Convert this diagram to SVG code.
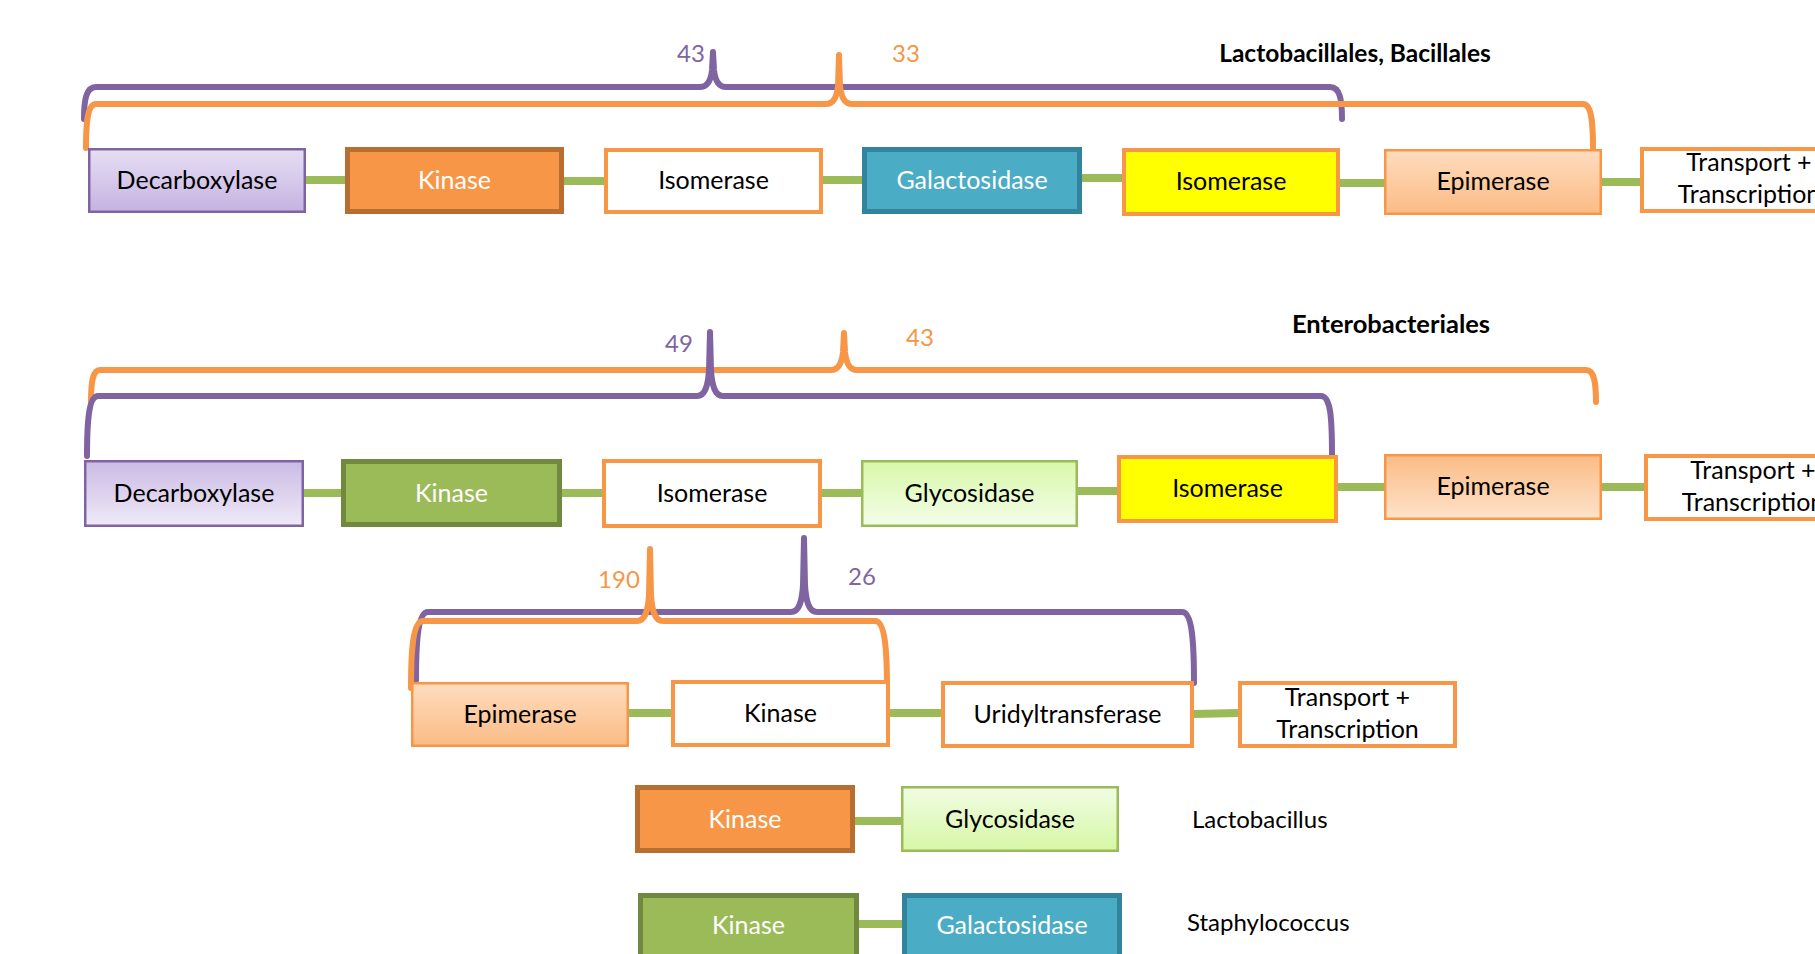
<svg xmlns="http://www.w3.org/2000/svg" width="1815" height="954" viewBox="0 0 1815 954">
<defs>
<linearGradient id="lavA" x1="0" y1="0" x2="0" y2="1"><stop offset="0" stop-color="#e6def3"/><stop offset="1" stop-color="#c5b3e1"/></linearGradient>
<linearGradient id="lavB" x1="0" y1="0" x2="0" y2="1"><stop offset="0" stop-color="#cbbbe5"/><stop offset="1" stop-color="#efe9f7"/></linearGradient>
<linearGradient id="peachA" x1="0" y1="0" x2="0" y2="1"><stop offset="0" stop-color="#fedcbe"/><stop offset="1" stop-color="#fbbc86"/></linearGradient>
<linearGradient id="peachB" x1="0" y1="0" x2="0" y2="1"><stop offset="0" stop-color="#fbbc86"/><stop offset="1" stop-color="#fee2ca"/></linearGradient>
<linearGradient id="grnA" x1="0" y1="0" x2="0" y2="1"><stop offset="0" stop-color="#d9f8aa"/><stop offset="1" stop-color="#f3fde8"/></linearGradient>
<linearGradient id="grnB" x1="0" y1="0" x2="0" y2="1"><stop offset="0" stop-color="#f0fce2"/><stop offset="1" stop-color="#d7f7a6"/></linearGradient>
</defs>
<style>
text{font-family:"Lato","Liberation Sans",sans-serif;font-size:25px;text-anchor:middle;fill:#000}
.w{fill:#fff}
.num{font-size:24px}
.np{fill:#7f65a1}
.no{fill:#f79646}
.title{font-weight:bold;font-size:24.5px}
.sp{font-size:24px;text-anchor:start}
.dec{stroke:#8064a2;stroke-width:2.5}
.ko{fill:#f79646;stroke:#b86d31;stroke-width:5}
.kg{fill:#9bbb59;stroke:#71893f;stroke-width:5}
.wo{fill:#fff;stroke:#f79646;stroke-width:4}
.ga{fill:#4bacc6;stroke:#31849b;stroke-width:5}
.ye{fill:#ffff00;stroke:#f79646;stroke-width:4}
.ep{stroke:#f79646;stroke-width:2.5}
.gl{stroke:#9bbb59;stroke-width:2.5}
.con line{stroke:#9bbb59;stroke-width:8}
.br{fill:none;stroke-width:6;stroke-linecap:round;stroke-linejoin:round}
.bp{stroke:#8064a2}
.bo{stroke:#f79646}
</style>

<g id="connectors" class="con">
<line x1="306" y1="180" x2="345" y2="180"/>
<line x1="564" y1="181" x2="604" y2="181"/>
<line x1="823" y1="180" x2="862" y2="180"/>
<line x1="1082" y1="178" x2="1122" y2="178"/>
<line x1="1340" y1="183" x2="1384" y2="183"/>
<line x1="1602" y1="182" x2="1640" y2="182"/>
<line x1="304" y1="493" x2="341" y2="493"/>
<line x1="562" y1="493" x2="602" y2="493"/>
<line x1="822" y1="493" x2="861" y2="493"/>
<line x1="1078" y1="491" x2="1117" y2="491"/>
<line x1="1338" y1="487" x2="1384" y2="487"/>
<line x1="1602" y1="487" x2="1644" y2="487"/>
<line x1="629" y1="713" x2="671" y2="713"/>
<line x1="890" y1="713" x2="941" y2="713"/>
<line x1="1194" y1="714" x2="1238" y2="713"/>
<line x1="855" y1="821" x2="901" y2="821"/>
<line x1="859" y1="924" x2="902" y2="924"/>
</g>

<g id="brackets-row1">
<path class="br bp" d="M84,119 C84,100 86,87 96,87 L700,87 C708,87 711,80 712,70 L713,52 L714,70 C715,80 718,87 726,87 L1330,87 C1340,87 1342,100 1342,119"/>
<path class="br bo" d="M86,148 C86,125 87,104 96,104 L826,104 C834,104 837,96 838,86 L839,55 L840,86 C841,96 844,104 852,104 L1583,104 C1592,104 1593,125 1593,148"/>
<text class="num np" x="691" y="62">43</text>
<text class="num no" x="906" y="62">33</text>
<text class="title" x="1355" y="62">Lactobacillales, Bacillales</text>
</g>

<g id="brackets-row2">
<path class="br bo" d="M91,402 C91,385 92,370 100,370 L831,370 C839,370 842,362 843,352 L844,333 L845,352 C846,362 849,370 857,370 L1586,370 C1595,370 1596,385 1596,402"/>
<path class="br bp" d="M87,456 C87,420 89,396 98,396 L697,396 C705,396 708,386 709,370 L710,332 L711,370 C712,386 715,396 723,396 L1321,396 C1331,396 1332,420 1332,456"/>
<text class="num np" x="679" y="352">49</text>
<text class="num no" x="920" y="346">43</text>
<text class="title" x="1391" y="333" style="font-size:25.5px">Enterobacteriales</text>
</g>

<g id="brackets-row3">
<path class="br bp" d="M416,680 C416,640 418,612 428,612 L791,612 C799,612 802,602 803,585 L804,538 L805,585 C806,602 809,612 817,612 L1182,612 C1192,612 1194,640 1194,683"/>
<path class="br bo" d="M411,688 C411,650 413,621 423,621 L637,621 C645,621 648,611 649,595 L650,549 L651,595 C652,611 655,621 663,621 L875,621 C885,621 887,650 887,688"/>
<text class="num no" x="619" y="588">190</text>
<text class="num np" x="862" y="585">26</text>
</g>

<g id="r1-decarboxylase"><rect class="dec" x="89.25" y="149.25" width="215.5" height="62.5" fill="url(#lavA)"/><text x="197" y="189">Decarboxylase</text></g>
<g id="r1-kinase"><rect class="ko" x="347.5" y="149.5" width="214" height="62"/><text class="w" x="454.5" y="189">Kinase</text></g>
<g id="r1-isomerase"><rect class="wo" x="606" y="150" width="215" height="62"/><text x="713.5" y="189">Isomerase</text></g>
<g id="r1-galactosidase"><rect class="ga" x="864.5" y="149.5" width="215" height="62"/><text class="w" x="972" y="189">Galactosidase</text></g>
<g id="r1-isomerase2"><rect class="ye" x="1124" y="150" width="214" height="64"/><text x="1231" y="190">Isomerase</text></g>
<g id="r1-epimerase"><rect class="ep" x="1385.25" y="150.25" width="215.5" height="63.5" fill="url(#peachA)"/><text x="1493" y="190">Epimerase</text></g>
<g id="r1-transport"><rect class="wo" x="1642" y="149" width="214" height="62"/><text x="1749" y="171">Transport +</text><text x="1749" y="203">Transcription</text></g>

<g id="r2-decarboxylase"><rect class="dec" x="85.25" y="461.25" width="217.5" height="64.5" fill="url(#lavB)"/><text x="194" y="502">Decarboxylase</text></g>
<g id="r2-kinase"><rect class="kg" x="343.5" y="461.5" width="216" height="63"/><text class="w" x="451.5" y="502">Kinase</text></g>
<g id="r2-isomerase"><rect class="wo" x="604" y="461" width="216" height="65"/><text x="712" y="502">Isomerase</text></g>
<g id="r2-glycosidase"><rect class="gl" x="862.25" y="461.25" width="214.5" height="64.5" fill="url(#grnA)"/><text x="969.5" y="502">Glycosidase</text></g>
<g id="r2-isomerase2"><rect class="ye" x="1119" y="457" width="217" height="64"/><text x="1227.5" y="497">Isomerase</text></g>
<g id="r2-epimerase"><rect class="ep" x="1385.25" y="455.25" width="215.5" height="63.5" fill="url(#peachB)"/><text x="1493" y="495">Epimerase</text></g>
<g id="r2-transport"><rect class="wo" x="1646" y="456" width="214" height="63"/><text x="1753" y="479">Transport +</text><text x="1753" y="511">Transcription</text></g>

<g id="r3-epimerase"><rect class="ep" x="412.25" y="683.25" width="215.5" height="62.5" fill="url(#peachA)"/><text x="520" y="723">Epimerase</text></g>
<g id="r3-kinase"><rect class="wo" x="673" y="682" width="215" height="63"/><text x="780.5" y="722">Kinase</text></g>
<g id="r3-uridyltransferase"><rect class="wo" x="943" y="683" width="249" height="63"/><text x="1067.5" y="723">Uridyltransferase</text></g>
<g id="r3-transport"><rect class="wo" x="1240" y="683" width="215" height="63"/><text x="1347.5" y="706">Transport +</text><text x="1347.5" y="738">Transcription</text></g>

<g id="r4-kinase"><rect class="ko" x="637.5" y="787.5" width="215" height="63"/><text class="w" x="745" y="828">Kinase</text></g>
<g id="r4-glycosidase"><rect class="gl" x="902.25" y="787.25" width="215.5" height="63.5" fill="url(#grnB)"/><text x="1010" y="828">Glycosidase</text></g>
<g id="r4-label"><text class="sp" x="1192" y="828">Lactobacillus</text></g>

<g id="r5-kinase"><rect class="kg" x="640.5" y="895.5" width="216" height="63"/><text class="w" x="748.5" y="934">Kinase</text></g>
<g id="r5-galactosidase"><rect class="ga" x="904.5" y="895.5" width="215" height="63"/><text class="w" x="1012" y="934">Galactosidase</text></g>
<g id="r5-label"><text class="sp" x="1187" y="931">Staphylococcus</text></g>
</svg>
